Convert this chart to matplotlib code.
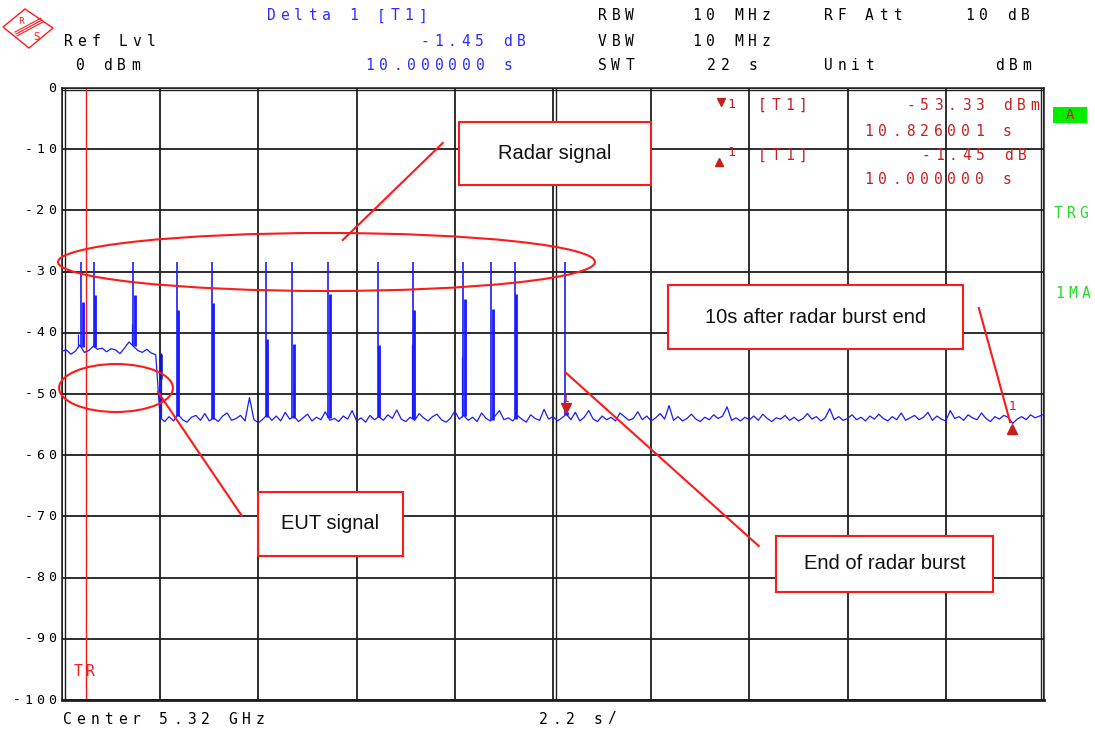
import numpy as np
import matplotlib
matplotlib.use("Agg")
import matplotlib.pyplot as plt
import matplotlib.transforms as mtransforms
from matplotlib.lines import Line2D
from matplotlib.patches import Ellipse, Rectangle, Polygon

W, H = 1095, 733
BLUE = "#1a1aff"
HEAD_BLUE = "#2b2bff"
RED = "#ff1a1a"
MRK_RED = "#c81e1e"
GREEN = "#22dd22"
GRID = "#1e1e1e"
MONO = ["DejaVu Sans Mono", "DejaVu Sans"]

# measured trace, 0..22 s sweep (0.1 s per point), dBm
trace_db = [
    -43.0, -42.8, -43.5, -43.0, -42.0, -43.2, -42.9, -42.2, -42.7, -42.5,
    -43.1, -42.6, -42.8, -43.4, -42.5, -41.5, -42.2, -42.9, -43.2, -42.7,
    -43.3, -43.6,
    -54.1, -54.5, -53.7, -54.4, -53.3, -54.2, -54.6, -53.8, -53.5, -54.3,
    -53.2, -54.4, -53.9, -54.5, -53.6, -53.1, -54.3, -54.0, -53.5, -54.4,
    -50.6, -54.2, -54.7, -54.1, -53.4, -54.3, -53.6, -54.4, -53.0, -54.1,
    -53.7, -54.5, -53.9, -53.3, -54.4, -53.8, -54.2, -52.9, -54.3, -54.0,
    -54.5, -53.6, -54.1, -52.7, -54.4, -53.9, -54.6, -53.5, -54.2, -53.7,
    -54.3, -53.4, -54.0, -52.6, -54.1, -54.5, -53.8, -54.3, -53.2, -53.9,
    -54.4, -53.7, -53.3, -54.2, -54.6, -54.0, -52.8, -54.1, -53.5, -54.3,
    -53.8, -54.5, -53.1, -54.0, -54.4, -53.6, -52.7, -54.2, -53.9, -54.4,
    -53.5, -54.1, -54.6, -53.4, -54.0, -54.3, -52.5, -54.1, -53.7, -54.4,
    -53.9, -53.3, -54.2, -53.0, -54.4, -53.8, -52.7, -54.1, -54.5, -53.6,
    -54.2, -53.8, -54.4, -53.1, -53.7, -54.3, -54.0, -52.9, -54.2, -53.6,
    -54.4, -53.9, -53.2, -54.1, -51.9, -54.3, -53.7, -54.4, -54.0, -53.3,
    -54.1, -54.5, -53.8, -54.2, -53.4, -54.0, -53.6, -52.1, -54.3, -53.9,
    -54.4, -53.8, -54.2, -53.6, -54.3, -53.3, -54.0, -54.5, -53.9, -54.1,
    -53.5, -54.3, -53.8, -54.4, -54.0, -53.2, -54.1, -53.7, -54.4, -53.9,
    -52.4, -54.2, -53.7, -54.3, -54.0, -53.4, -54.2, -53.8, -54.4, -53.6,
    -54.1, -53.3, -54.0, -54.4, -53.7, -54.2, -53.1, -54.3, -53.9, -53.5,
    -54.2, -53.8, -53.0, -54.3, -53.6, -54.1, -54.4, -52.7, -54.0, -53.7,
    -54.3, -53.4, -53.9, -54.2, -53.1, -54.0, -54.5, -53.7, -54.1, -53.5,
    -53.8, -54.8, -54.1, -53.7, -54.2, -53.4, -53.9, -53.6, -53.3,
]
sweep_t = np.linspace(0, 22, len(trace_db))

# end of EUT transmission (step down to noise floor)
eut_stop_t = 2.22
eut_stop_db = [-43.4, -47.5, -54.0]

# radar pulses: time (s), peak level, second (wider) level
pulse_t = [0.43, 0.72, 1.60, 2.57, 3.35, 4.56, 5.16, 5.97, 7.08, 7.86, 8.99, 9.62, 10.14, 11.28]
pulse_peak = [-28.4] * 14
pulse_second = [-34.9, -33.8, -33.8, -36.3, -35.2, -41.0, -41.9, -33.7, -42.0, -36.3, -34.5, -36.1, -33.7, -53.0]
minor_t = [0.36, 1.56, 5.19, 7.83, 8.96, 10.17]
minor_db = [-40.2, -38.6, -48.8, -41.9, -44.0, -51.2]

trigger_t = 0.53
m1_t, m1_db = 11.29, -53.33
d1_dt, d1_ddb = 10.0, -1.45

yticks = list(range(0, -101, -10))
xgrid = np.linspace(0, 22, 11)

fig = plt.figure(figsize=(W / 100, H / 100), dpi=100)
fig.patch.set_facecolor("white")
ax = fig.add_axes([62 / W, 1 - 700 / H, 982 / W, 612 / H])
ax.set_xlim(0, 22)
ax.set_ylim(-100, 0)
ax.set_xticks(xgrid)
ax.set_yticks(yticks)
ax.tick_params(length=0, labelbottom=False, labelleft=False)
ax.grid(True, color=GRID, lw=1.3, zorder=1)
ax.set_axisbelow(True)
for side in ["top", "left", "right"]:
    ax.spines[side].set_color(GRID)
    ax.spines[side].set_linewidth(1.1)
ax.spines["bottom"].set_color(GRID)
ax.spines["bottom"].set_linewidth(2.0)
# double lines: inner frame and centre line
ax.axvline(11.065, color=GRID, lw=1.0, zorder=1)
for xs, ys in [([0.0026, 0.0026], [0, 1]), ([0.9974, 0.9974], [0, 1]), ([0, 1], [0.996, 0.996])]:
    ax.plot(xs, ys, color=GRID, lw=1.0, transform=ax.transAxes, zorder=1)

# trace: EUT part, step, noise floor
eut = sweep_t < eut_stop_t
ax.plot(list(sweep_t[eut]) + [eut_stop_t], list(np.array(trace_db)[eut]) + [eut_stop_db[0]],
        color=BLUE, lw=0.9, zorder=3)
ax.plot([eut_stop_t] + list(sweep_t[~eut]), [eut_stop_db[-1]] + list(np.array(trace_db)[~eut]),
        color=BLUE, lw=0.9, zorder=3)
ax.vlines(eut_stop_t, eut_stop_db[-1], eut_stop_db[0], color=BLUE, lw=0.9, zorder=3)
ax.vlines(eut_stop_t, eut_stop_db[1], eut_stop_db[0], color="#1010c0", lw=1.8, zorder=3)

base = np.interp(pulse_t, sweep_t, trace_db)
ax.vlines(pulse_t, base, pulse_peak, color=BLUE, lw=1.2, zorder=3)
ax.vlines(np.array(pulse_t) + 0.03, base, pulse_second, color=BLUE, lw=2.0, zorder=3)
minor_base = np.interp(minor_t, sweep_t, trace_db)
ax.vlines(minor_t, minor_base, minor_db, color=BLUE, lw=0.9, zorder=3)

# trigger line
ax.axvline(trigger_t, color=RED, lw=1.0, zorder=2)

# markers
d1_t, d1_db = m1_t + d1_dt, m1_db + d1_ddb
up6 = mtransforms.offset_copy(ax.transData, fig=fig, y=6, units="dots")
dn6 = mtransforms.offset_copy(ax.transData, fig=fig, y=-6, units="dots")
ax.plot([m1_t], [m1_db], marker="v", ms=7.5, color=MRK_RED, transform=up6, zorder=5, clip_on=False)
ax.plot([d1_t], [d1_db], marker="^", ms=7.5, color=MRK_RED, transform=dn6, zorder=5, clip_on=False)
ax.annotate("1", (m1_t, m1_db), xytext=(0, 16), textcoords="offset pixels", ha="center", va="center",
            color=MRK_RED, fontsize=9, family="DejaVu Sans", zorder=5)
ax.annotate("1", (d1_t, d1_db), xytext=(0, 17), textcoords="offset pixels", ha="center", va="center",
            color=MRK_RED, fontsize=9, family="DejaVu Sans", zorder=5)

# callouts
for cx, cy, w, h in [(5.925, -28.43, 12.03, 9.48), (1.21, -49.02, 2.55, 7.84)]:
    ax.add_patch(Ellipse((cx, cy), w, h, fill=False, ec=RED, lw=1.5, zorder=6, clip_on=False))
for (x0, y0), (x1, y1) in [((8.53, -8.99), (6.29, -24.84)), ((2.15, -49.67), (4.03, -69.93)),
                           ((11.27, -46.41), (15.61, -74.84)), ((20.54, -35.95), (21.24, -54.58))]:
    ax.plot([x0, x1], [y0, y1], color=RED, lw=1.5, zorder=6)
for x0, x1, y0, y1, label in [(8.89, 13.19, -5.56, -15.85, "Radar signal"),
                              (13.58, 20.18, -32.19, -42.65, "10s after radar burst end"),
                              (4.39, 7.64, -66.01, -76.47, "EUT signal"),
                              (15.99, 20.86, -73.20, -82.35, "End of radar burst")]:
    ax.add_patch(Rectangle((x0, y1), x1 - x0, y0 - y1, fc="white", ec=RED, lw=1.5, zorder=7))
    ax.text((x0 + x1) / 2, (y0 + y1) / 2, label, ha="center", va="center", fontsize=14.5,
            family="Liberation Sans", color="#111111", zorder=8)


def fxy(x, y):
    return x / W, 1 - y / H


def mono(x, y, s, color="black", size=10.5, pitch=13.8, align="left"):
    if align == "right":
        x = x - (len(s) - 1) * pitch - 10
    for i, ch in enumerate(s):
        if ch != " ":
            fig.text(*fxy(x + 5 + i * pitch, y), ch, ha="center", va="center",
                     family=MONO, fontsize=size, color=color, zorder=5)


# header
mono(266, 16, "Delta 1 [T1]", HEAD_BLUE)
mono(63, 41, "Ref Lvl")
mono(526, 41, "-1.45 dB", HEAD_BLUE, align="right")
mono(75, 66, "0 dBm")
mono(365, 66, "10.000000 s", HEAD_BLUE)
mono(597, 16, "RBW")
mono(692, 16, "10 MHz")
mono(823, 16, "RF Att")
mono(1030, 16, "10 dB", align="right")
mono(597, 41, "VBW")
mono(692, 41, "10 MHz")
mono(597, 66, "SWT")
mono(706, 66, "22 s")
mono(823, 66, "Unit")
mono(1032, 66, "dBm", align="right")

# marker table
fig.add_artist(Line2D([fxy(721, 102)[0]], [fxy(721, 102)[1]], marker="v", ms=6, color=MRK_RED,
                      transform=fig.transFigure))
fig.add_artist(Line2D([fxy(719, 162)[0]], [fxy(719, 162)[1]], marker="^", ms=6, color=MRK_RED,
                      transform=fig.transFigure))
mono(726, 104, "1", MRK_RED, size=9.5)
mono(726, 152, "1", MRK_RED, size=9.5)
mono(757, 105, "[T1]", MRK_RED)
mono(1040, 105, "-53.33 dBm", MRK_RED, align="right")
mono(1012, 131, "10.826001 s", MRK_RED, align="right")
mono(757, 155, "[T1]", MRK_RED)
mono(1027, 155, "-1.45 dB", MRK_RED, align="right")
mono(1012, 180, "10.000000 s", MRK_RED, align="right")

# side labels
fig.add_artist(Rectangle(fxy(1053, 123), 34 / W, 16 / H, transform=fig.transFigure,
                         fc="#00ee00", ec="none", zorder=2))
fig.text(*fxy(1070, 115), "A", ha="center", va="center", family=MONO, fontsize=10,
         color="#e01010", zorder=6)
mono(1053, 213, "TRG", GREEN, pitch=13)
mono(1055, 294, "1MA", GREEN, pitch=13)

# y tick labels
for v in yticks:
    py = H - ax.transData.transform((0, v))[1]
    mono(57, py, str(v), size=9.5, pitch=11.7, align="right")

# bottom labels
mono(62, 719, "Center 5.32 GHz")
mono(538, 719, "2.2 s/")
mono(73, 672, "TR", RED, pitch=12)

# R&S logo
logo = [fxy(3, 27), fxy(25, 9), fxy(53, 28), fxy(29, 48)]
fig.add_artist(Polygon(logo, closed=True, fill=False, ec=RED, lw=1.0, transform=fig.transFigure))
for off in (-2.2, 0, 2.2):
    p0 = fxy(16 + 0.47 * off, 34 + 0.88 * off)
    p1 = fxy(42 + 0.47 * off, 20 + 0.88 * off)
    fig.add_artist(Line2D([p0[0], p1[0]], [p0[1], p1[1]], color=RED, lw=0.8, transform=fig.transFigure))
fig.text(*fxy(21, 22), "R", ha="center", va="center", fontsize=6, color=RED)
fig.text(*fxy(36, 37), "S", ha="center", va="center", fontsize=7, color=RED)

fig.savefig("out.png", dpi=100, facecolor="white")
